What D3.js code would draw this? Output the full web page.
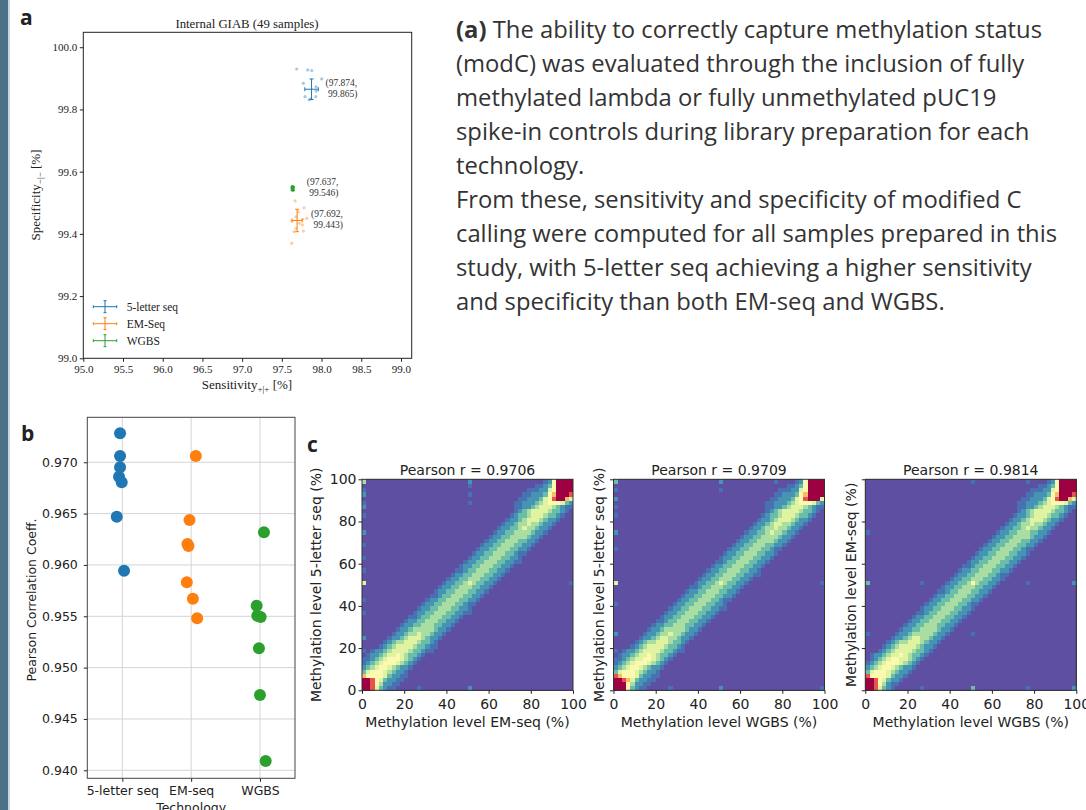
<!DOCTYPE html>
<html>
<head>
<meta charset="utf-8">
<script src="https://cdn.jsdelivr.net/npm/d3@7"></script>
<style>
  body { margin: 0; background: #fff; }
  svg { display: block; }
</style>
</head>
<body>
<svg id="fig" width="1086" height="810"></svg>
<script>
// ---------- panel a: sensitivity / specificity ----------
const techNames = ["5-letter seq", "EM-Seq", "WGBS"];
const meanSens = [97.874, 97.692, 97.637];
const meanSpec = [99.865, 99.443, 99.546];
const errSens = [0.085, 0.063, 0.012];
const errSpec = [0.033, 0.036, 0.006];
const sens5L = [97.687, 97.826, 97.876, 98.002, 97.771, 97.931, 97.931, 97.792, 97.843, 97.927, 97.864];
const spec5L = [99.930, 99.927, 99.925, 99.898, 99.884, 99.873, 99.859, 99.841, 99.831, 99.841, 99.834];
const sensEM = [97.666, 97.780, 97.708, 97.679, 97.763, 97.625, 97.720, 97.814, 97.758, 97.679, 97.654, 97.771, 97.625];
const specEM = [99.506, 99.484, 99.471, 99.455, 99.447, 99.442, 99.434, 99.450, 99.429, 99.418, 99.407, 99.409, 99.370];
const sensWG = [97.628, 97.634, 97.640, 97.631, 97.645, 97.637, 97.642, 97.630];
const specWG = [99.551, 99.548, 99.545, 99.541, 99.549, 99.553, 99.540, 99.546];
const sensTicks = [95.0, 95.5, 96.0, 96.5, 97.0, 97.5, 98.0, 98.5, 99.0];
const specTicks = [99.0, 99.2, 99.4, 99.6, 99.8, 100.0];

// ---------- panel b: pearson per technology ----------
const techB = ["5-letter seq", "EM-seq", "WGBS"];
const pearson5L = [0.97283, 0.97061, 0.96951, 0.96860, 0.96805, 0.96470, 0.95944];
const jitter5L = [-0.033, -0.033, -0.033, -0.048, -0.009, -0.081, 0.025];
const pearsonEM = [0.97061, 0.96438, 0.96204, 0.96185, 0.95831, 0.95671, 0.95480];
const jitterEM = [0.068, -0.024, -0.054, -0.039, -0.063, 0.025, 0.087];
const pearsonWG = [0.96318, 0.95603, 0.95506, 0.95493, 0.95188, 0.94733, 0.94091];
const jitterWG = [0.058, -0.048, -0.039, 0.010, -0.015, 0.0, 0.083];
const pearsonTicks = [0.940, 0.945, 0.950, 0.955, 0.960, 0.965, 0.970];

// ---------- panel c: 2D methylation histograms (50x50 bins of 2%) ----------
// each row y (0 = bottom) lists colour levels for x = y-8 .. y+8
const heatTitles = ["Pearson r = 0.9706", "Pearson r = 0.9709", "Pearson r = 0.9814"];
const heatXLabels = ["Methylation level EM-seq (%)", "Methylation level WGBS (%)", "Methylation level WGBS (%)"];
const heatYLabels = ["Methylation level 5-letter seq (%)", "Methylation level 5-letter seq (%)", "Methylation level EM-seq (%)"];
const methTicks = [0, 20, 40, 60, 80, 100];

const band5LvsEM = [
  "00000000998532110", "00000009986422110", "00000099865322110", "00000766665322110",
  "00003566654322100", "00023456654322100", "00123456665432100", "01123456665432100",
  "01223455654332100", "01223455554332110", "00123455554332110", "00123445554332100",
  "00122345554322100", "00122344544322100", "00122344444322100", "00122334443322100",
  "00122334443322100", "00112334443322100", "00122334443322110", "00122334443322100",
  "00122334443321100", "00122334443322100", "00112334443322100", "00122334443322100",
  "00122334443322100", "00122334543322100", "00122334443322100", "00122334443322100",
  "00112334443322100", "00122334443322100", "00122334443322110", "00122334443322100",
  "00122334443321100", "00122334443322100", "00122334443322100", "00122334443322100",
  "00122334444322100", "00122334444322100", "00122334544322100", "00122344544322100",
  "00122345554322100", "00123345554332100", "00123455554332100", "01122345554321100",
  "11222345666532000", "11222356899750000", "11222367999800000", "11122569999000000",
  "01123699990000000", "00126999900000000"
];
const band5LvsWG = [
  "00000000999632110", "00000009996422110", "00000099875322110", "00000876665322110",
  "00003566654322100", "00023456654322100", "00123456665432100", "01123455665432100",
  "01223455654332100", "01223455554332110", "00123455554332100", "00123445554332100",
  "00122345544322100", "00122344544322100", "00122344444322100", "00122334443322100",
  "00112334443322100", "00122334443322100", "00122334443322100", "00122334443322110",
  "00122334443322100", "00122334443321100", "00122334443322100", "00122334443322100",
  "00112334443322100", "00122334543322100", "00122334443322100", "00122334443322110",
  "00122334443322100", "00122334443322100", "00112334443322100", "00122334443322100",
  "00122334443322100", "00122334443321100", "00122334443322100", "00122334444322100",
  "00122334444322100", "00122334544322100", "00122344544322100", "00122345544322100",
  "00122345554322100", "00123345554332100", "00123455554332100", "01122345554321100",
  "11222345666532000", "11222356899950000", "11222367999900000", "11122569999000000",
  "01123699990000000", "00126999900000000"
];
const bandEMvsWG = [
  "00000000998532100", "00000009986421100", "00000099865322100", "00000866665322100",
  "00003566654322100", "00023456654322100", "00123456665432100", "00123456655432100",
  "01223455654332100", "00123455554332100", "00123455554322100", "00123445554322100",
  "00122345544322100", "00122344444322100", "00122334444322100", "00122334443322100",
  "00122334443322100", "00122334443322100", "00112334443322100", "00122334443322100",
  "00122334443321100", "00122334443322100", "00122334443322100", "00112334443322100",
  "00122334443322100", "00122334643322100", "00122334443322100", "00122334443321100",
  "00122334443322100", "00112334443322100", "00122334443322100", "00122334443322100",
  "00122334443322100", "00122334443321100", "00122334443322100", "00122334443322100",
  "00122334444322100", "00122334443322100", "00122334544322100", "00122344544322100",
  "00122345554322100", "00122345554332100", "00123455554332100", "01122345554321100",
  "11222345666532000", "11222356899750000", "11222367999800000", "11122569999000000",
  "01123699990000000", "00126999900000000"
];
// isolated bins [xBin, yBin, level]
const spots5LvsEM = [[0,49,4],[0,47,1],[0,46,2],[0,44,1],[0,43,2],[0,41,1],[0,37,2],[0,34,1],[0,31,1],
  [0,28,1],[0,25,5],[0,21,1],[0,18,1],[0,12,2],[0,9,1],[25,49,2],[25,48,1],[25,46,1],[25,44,1],
  [25,0,2],[49,25,1],[13,0,1]];
const spots5LvsWG = [[0,49,3],[0,47,1],[0,45,2],[0,43,1],[0,41,1],[0,37,2],[0,33,1],[0,25,5],[0,20,1],
  [0,13,2],[0,9,1],[25,49,2],[25,47,1],[25,25,5],[25,0,2],[49,25,1],[49,0,1],[38,49,1],[13,0,1]];
const spotsEMvsWG = [[25,49,1],[38,49,1],[0,25,3],[25,25,6],[49,25,2],[25,0,3],[49,0,2],[13,0,1],
  [38,0,1],[13,25,1],[38,25,1],[0,13,1],[25,13,1],[0,37,1]];
const levelT = [0, 0.06, 0.12, 0.2, 0.3, 0.4, 0.5, 0.68, 0.85, 1];

const captionLines = [
  "The ability to correctly capture methylation status",
  "(modC) was evaluated through the inclusion of fully",
  "methylated lambda or fully unmethylated pUC19",
  "spike-in controls during library preparation for each",
  "technology.",
  "From these, sensitivity and specificity of modified C",
  "calling were computed for all samples prepared in this",
  "study, with 5-letter seq achieving a higher sensitivity",
  "and specificity than both EM-seq and WGBS."
];

const colors = ["#1f77b4", "#ff7f0e", "#2ca02c"];
const serif = "'Liberation Serif', 'DejaVu Serif', serif";
const sans = "'DejaVu Sans', sans-serif";
const svg = d3.select("#fig");

// page side bar
svg.append("rect").attr("x", 0).attr("y", 0).attr("width", 8).attr("height", 810).attr("fill", "#4d7089");
svg.append("rect").attr("x", 8).attr("y", 0).attr("width", 2).attr("height", 810).attr("fill", "#c9d6df");

function panelLetter(t, x, y) {
  svg.append("text").attr("x", x).attr("y", y).text(t)
    .attr("font-family", "'Open Sans', sans-serif").attr("font-weight", 700)
    .attr("font-size", 21).attr("fill", "#222");
}
function styleAxis(g, font, size) {
  g.select(".domain").remove();
  g.selectAll(".tick line").attr("stroke", "#222");
  g.selectAll(".tick text").attr("font-family", font).attr("font-size", size).attr("fill", "#222");
}

// ================= panel a =================
panelLetter("a", 20, 25);
const aL = 83.3, aR = 411.7, aT = 32.3, aB = 358.3;
const xA = d3.scaleLinear().domain([95.0, 99.135]).range([aL, aR]);
const yA = d3.scaleLinear().domain([99.0, 100.048]).range([aB, aT]);

svg.append("g").attr("transform", `translate(0,${aB})`)
  .call(d3.axisBottom(xA).tickValues(sensTicks).tickFormat(d3.format(".1f")).tickSize(3.5).tickPadding(3))
  .call(g => styleAxis(g, serif, 11));
svg.append("g").attr("transform", `translate(${aL},0)`)
  .call(d3.axisLeft(yA).tickValues(specTicks).tickFormat(d3.format(".1f")).tickSize(3.5).tickPadding(2.5))
  .call(g => styleAxis(g, serif, 11));
svg.append("rect").attr("x", aL).attr("y", aT).attr("width", aR - aL).attr("height", aB - aT)
  .attr("fill", "none").attr("stroke", "#222").attr("stroke-width", 1);

svg.append("text").attr("x", 247).attr("y", 27.5).attr("text-anchor", "middle")
  .attr("font-family", serif).attr("font-size", 12.8).attr("fill", "#222").text("Internal GIAB (49 samples)");

const xLab = svg.append("text").attr("x", 247).attr("y", 389).attr("text-anchor", "middle")
  .attr("font-family", serif).attr("font-size", 13).attr("fill", "#222");
xLab.append("tspan").text("Sensitivity");
xLab.append("tspan").attr("font-size", 9).attr("dy", 3).text("+|+");
xLab.append("tspan").attr("dy", -3).text(" [%]");
const yLab = svg.append("text").attr("transform", "translate(40,195) rotate(-90)").attr("text-anchor", "middle")
  .attr("font-family", serif).attr("font-size", 13).attr("fill", "#222");
yLab.append("tspan").text("Specificity");
yLab.append("tspan").attr("font-size", 9).attr("dy", 3).text("\u2212|\u2212");
yLab.append("tspan").attr("dy", -3).text(" [%]");

const sensSets = [sens5L, sensEM, sensWG], specSets = [spec5L, specEM, specWG];
sensSets.forEach((s, i) => {
  svg.append("g").selectAll("circle").data(s.map((v, j) => [v, specSets[i][j]])).join("circle")
    .attr("cx", d => xA(d[0])).attr("cy", d => yA(d[1])).attr("r", 1.6)
    .attr("fill", colors[i]).attr("fill-opacity", i === 2 ? 0.75 : 0.4);
});

function errCross(g, cx, cy, ex, ey, col, cap) {
  g.append("line").attr("x1", cx - ex).attr("x2", cx + ex).attr("y1", cy).attr("y2", cy).attr("stroke", col);
  g.append("line").attr("x1", cx).attr("x2", cx).attr("y1", cy - ey).attr("y2", cy + ey).attr("stroke", col);
  [-1, 1].forEach(s => {
    g.append("line").attr("x1", cx - cap).attr("x2", cx + cap).attr("y1", cy + s * ey).attr("y2", cy + s * ey).attr("stroke", col);
    g.append("line").attr("x1", cx + s * ex).attr("x2", cx + s * ex).attr("y1", cy - cap).attr("y2", cy + cap).attr("stroke", col);
  });
}
techNames.forEach((name, i) => {
  const g = svg.append("g");
  const cx = xA(meanSens[i]), cy = yA(meanSpec[i]);
  errCross(g, cx, cy, xA(meanSens[i] + errSens[i]) - cx, cy - yA(meanSpec[i] + errSpec[i]), colors[i], 2);
  const t = g.append("text").attr("font-family", serif).attr("font-size", 9.5).attr("fill", "#333");
  t.append("tspan").attr("x", cx + 14).attr("y", cy - 3.5).text(`(${meanSens[i].toFixed(3)},`);
  t.append("tspan").attr("x", cx + 16.5).attr("y", cy + 8).text(`${meanSpec[i].toFixed(3)})`);
});

// legend
techNames.forEach((name, i) => {
  const g = svg.append("g");
  const ly = 306.7 + i * 17;
  errCross(g, 105, ly, 11.7, 6, colors[i], 1.5);
  g.append("text").attr("x", 126.7).attr("y", ly).attr("dy", "0.35em")
    .attr("font-family", serif).attr("font-size", 11.5).attr("fill", "#222").text(name);
});

// ================= caption =================
const cap = svg.append("text").attr("font-family", "'Open Sans', sans-serif").attr("font-size", 23.8).attr("fill", "#333");
captionLines.forEach((line, k) => {
  const ts = cap.append("tspan").attr("x", 456).attr("y", 38.3 + k * 34);
  if (k === 0) {
    ts.append("tspan").attr("font-weight", 700).text("(a)");
    ts.append("tspan").text(" " + line);
  } else ts.text(line);
});

// ================= panel b =================
panelLetter("b", 21, 441);
const bL = 87.3, bR = 295, bT = 417.3, bB = 778.3;
const xB = d3.scaleLinear().domain([-0.509, 2.509]).range([bL, bR]);
const yB = d3.scaleLinear().domain([0.93922, 0.97438]).range([bB, bT]);
const gB = svg.append("g");
gB.append("g").selectAll("line").data(pearsonTicks).join("line")
  .attr("x1", bL).attr("x2", bR).attr("y1", d => yB(d)).attr("y2", d => yB(d))
  .attr("stroke", "#d4d4d4").attr("stroke-width", 1);
gB.append("g").selectAll("line").data([0, 1, 2]).join("line")
  .attr("y1", bT).attr("y2", bB).attr("x1", d => xB(d)).attr("x2", d => xB(d))
  .attr("stroke", "#d4d4d4").attr("stroke-width", 1);
gB.append("g").attr("transform", `translate(0,${bB})`)
  .call(d3.axisBottom(xB).tickValues([0, 1, 2]).tickFormat(i => techB[i]).tickSize(3.5).tickPadding(4))
  .call(g => styleAxis(g, sans, 12.5));
gB.append("g").attr("transform", `translate(${bL},0)`)
  .call(d3.axisLeft(yB).tickValues(pearsonTicks).tickFormat(d3.format(".3f")).tickSize(3.5).tickPadding(6))
  .call(g => styleAxis(g, sans, 12.5));
gB.append("rect").attr("x", bL).attr("y", bT).attr("width", bR - bL).attr("height", bB - bT)
  .attr("fill", "none").attr("stroke", "#444").attr("stroke-width", 1);
const pSets = [pearson5L, pearsonEM, pearsonWG], jSets = [jitter5L, jitterEM, jitterWG];
pSets.forEach((ps, i) => {
  gB.append("g").selectAll("circle").data(ps.map((v, j) => [i + jSets[i][j], v])).join("circle")
    .attr("cx", d => xB(d[0])).attr("cy", d => yB(d[1])).attr("r", 6).attr("fill", colors[i]);
});
gB.append("text").attr("transform", "translate(32,600) rotate(-90)").attr("text-anchor", "middle").attr("dy", "0.35em")
  .attr("font-family", sans).attr("font-size", 12.5).attr("fill", "#222").text("Pearson Correlation Coeff.");
gB.append("text").attr("x", (bL + bR) / 2).attr("y", 812).attr("text-anchor", "middle")
  .attr("font-family", sans).attr("font-size", 12.5).attr("fill", "#222").text("Technology");

// ================= panel c =================
panelLetter("c", 307, 452);
const heatColor = d3.scaleSequential(t => d3.interpolateSpectral(1 - t)).domain([0, 1]);
function buildGrid(band, spots) {
  const grid = band.map((row, y) => {
    const cells = new Array(50).fill(0);
    for (let i = 0; i < row.length; i++) {
      const x = y - 8 + i;
      if (x >= 0 && x < 50) cells[x] = +row[i];
    }
    return cells;
  });
  spots.forEach(([x, y, v]) => { grid[y][x] = Math.max(grid[y][x], v); });
  return grid;
}
const bands = [band5LvsEM, band5LvsWG, bandEMvsWG];
const spots = [spots5LvsEM, spots5LvsWG, spotsEMvsWG];
const heatLeft = [362, 613.5, 865.3];
const hW = 211, hTop = 479.3, hBot = 690.3;

bands.forEach((band, k) => {
  const x0 = heatLeft[k];
  const xS = d3.scaleLinear().domain([0, 100]).range([x0, x0 + hW]);
  const yS = d3.scaleLinear().domain([0, 100]).range([hBot, hTop]);
  const g = svg.append("g");
  const grid = buildGrid(band, spots[k]);
  const cells = [];
  grid.forEach((row, y) => row.forEach((v, x) => cells.push({ x, y, v })));
  g.append("g").attr("shape-rendering", "crispEdges").selectAll("rect").data(cells).join("rect")
    .attr("x", d => xS(d.x * 2)).attr("y", d => yS(d.y * 2 + 2))
    .attr("width", xS(2) - xS(0) + 0.4).attr("height", yS(0) - yS(2) + 0.4)
    .attr("fill", d => heatColor(levelT[d.v]));
  g.append("rect").attr("x", x0).attr("y", hTop).attr("width", hW).attr("height", hBot - hTop)
    .attr("fill", "none").attr("stroke", "#333").attr("stroke-width", 1);
  g.append("g").attr("transform", `translate(0,${hBot})`)
    .call(d3.axisBottom(xS).tickValues(methTicks).tickSize(3.5).tickPadding(5))
    .call(a => styleAxis(a, sans, 14));
  g.append("g").attr("transform", `translate(${x0},0)`)
    .call(d3.axisLeft(yS).tickValues(methTicks).tickSize(3.5).tickPadding(2).tickFormat(k === 0 ? d3.format("d") : () => ""))
    .call(a => styleAxis(a, sans, 14));
  g.append("text").attr("x", x0 + hW / 2).attr("y", 474.5).attr("text-anchor", "middle")
    .attr("font-family", sans).attr("font-size", 14).attr("fill", "#222").text(heatTitles[k]);
  g.append("text").attr("x", x0 + hW / 2).attr("y", 727).attr("text-anchor", "middle")
    .attr("font-family", sans).attr("font-size", 14).attr("fill", "#222").text(heatXLabels[k]);
  const ylx = k === 0 ? x0 - 46 : x0 - 14.5;
  g.append("text").attr("transform", `translate(${ylx},${(hTop + hBot) / 2}) rotate(-90)`).attr("dy", "0.35em")
    .attr("text-anchor", "middle").attr("font-family", sans).attr("font-size", 14).attr("fill", "#222")
    .text(heatYLabels[k]);
});
</script>
</body>
</html>
